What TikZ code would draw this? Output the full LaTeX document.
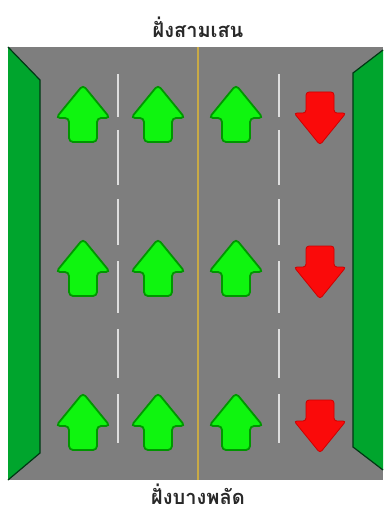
\documentclass[tikz,border=0pt]{standalone}
\usepackage{fontspec}
\newfontfamily\thaifont[Script=Thai]{Loma}
\definecolor{roadgrey}{RGB}{126,126,126}
\definecolor{walkgreen}{RGB}{0,165,45}
\definecolor{walkedge}{RGB}{0,55,20}
\definecolor{arrowgreen}{RGB}{15,245,15}
\definecolor{arrowedge}{RGB}{0,150,0}
\definecolor{arrowred}{RGB}{250,10,10}
\definecolor{rededge}{RGB}{205,0,0}
\definecolor{dashwhite}{RGB}{222,222,222}
\definecolor{centreline}{RGB}{200,170,70}
\definecolor{labeltext}{RGB}{40,40,40}
\begin{document}
\begin{tikzpicture}[x=1pt,y=-1pt,
  walk/.style={fill=walkgreen},
  walkline/.style={draw=walkedge, line width=1.2pt},
  lanedash/.style={draw=dashwhite, line width=2.6pt},
  sidelabel/.style={font=\thaifont\bfseries\fontsize{20}{23}\selectfont, text=labeltext, inner sep=0pt},
  uparr/.pic={\path[draw=arrowedge, fill=arrowgreen, line width=1.8pt, rounded corners=4pt]
     (0,0) -- (27,33) -- (14,33) -- (14,57) -- (-14,57) -- (-14,33) -- (-27,33) -- cycle;},
  downarr/.pic={\path[draw=rededge, fill=arrowred, line width=0.8pt, rounded corners=3pt]
     (-14,0) -- (14,0) -- (14,21) -- (26,21) -- (0,53) -- (-26,21) -- (-14,21) -- cycle;}
]
\useasboundingbox (0,0) rectangle (383,513);
\fill[white] (0,0) rectangle (383,513);
% road
\fill[roadgrey] (8,47) rectangle (383,480);
% sidewalks
\fill[walk] (8,47) -- (40,80) -- (40,453) -- (8,480) -- cycle;
\draw[walkline] (8,47) -- (40,80) -- (40,453) -- (8,480);
\fill[walk] (383,50) -- (353,73) -- (353,447) -- (383,470) -- cycle;
\draw[walkline] (383,50) -- (353,73) -- (353,447) -- (383,470);
% centre line
\draw[centreline, line width=2pt] (198,47) -- (198,480);
% lane dashes
\foreach \lx in {118,279}{
  \foreach \ya/\yb in {74/117,130/185,199/245,261/313,329/378,394/443}{
    \draw[lanedash] (\lx,\ya) -- (\lx,\yb);
  }
}
% arrows
\foreach \ry in {0,154,308}{
  \foreach \ax in {83,158,236}{
    \pic at (\ax,85+\ry) {uparr};
  }
  \pic at (320,92+\ry) {downarr};
}
% labels
\node[sidelabel] (north) at (198,27) {ฝั่งสามเสน};
\node[sidelabel] (south) at (198,494) {ฝั่งบางพลัด};
\end{tikzpicture}
\end{document}
